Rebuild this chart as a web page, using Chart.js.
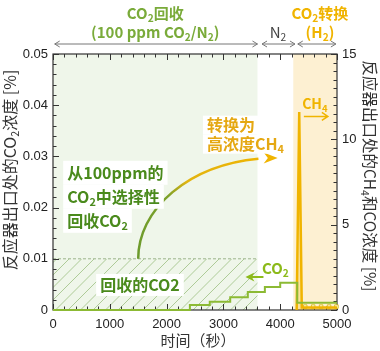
<!DOCTYPE html>
<html>
<head>
<meta charset="utf-8">
<script src="https://cdn.jsdelivr.net/npm/chart.js@4"></script>
<style>
  html, body { margin: 0; padding: 0; background: #fff; }
  #wrap { width: 380px; height: 351px; }
</style>
</head>
<body>
<div id="wrap"><canvas id="myChart" width="380" height="351"></canvas></div>
<script>
// time axis (s) and values
var co2Times = [0, 2410, 2760, 3120, 3430, 3730, 4000, 4300, 5000];
var co2Conc  = [0, 0.001, 0.0016, 0.0025, 0.0035, 0.0045, 0.0053, 0.0014, 0.0014];   // %
var ch4Times = [4290, 4335, 4380, 5000];
var ch4Conc  = [0, 11.6, 0.15, 0.15];                                               // %
var coTimes  = [4440, 4580, 4720, 4860, 4990];
var coConc   = [0.2, 0.2, 0.2, 0.2, 0.2];                                           // %

var xTicks  = [0, 1000, 2000, 3000, 4000, 5000];
var yTicks  = [0, 0.01, 0.02, 0.03, 0.04, 0.05];
var y2Ticks = [0, 5, 10, 15];

// phases of the run
var phaseNames = ["CO_2回收", "N_2", "CO_2转换"];
var phaseSub   = ["(100 ppm CO_2/N_2)", "", "(H_2)"];
var phaseStart = [0, 3640, 4230];
var phaseEnd   = [3600, 4230, 5000];

var FONT = "'Liberation Sans', Arial, sans-serif";
var CJK = "'Noto Sans CJK SC', 'Noto Sans', sans-serif";
var GREEN_DARK = "#4a8a1c";
var GREEN_LIGHT = "#7aab3a";
var LINE_GREEN = "#8cba34";
var YELLOW = "#f0b400";

function toPts(xs, ys){
    var out = [];
    for(var i = 0; i < xs.length; i++){
        out.push({x: xs[i], y: ys[i]});
    }
    return out;
}

// text with "_2" style subscripts
function splitSub(s){
    var parts = [];
    var re = /_(\d)/g, last = 0, m;
    while((m = re.exec(s)) !== null){
        if(m.index > last) parts.push({t: s.slice(last, m.index), sub: false});
        parts.push({t: m[1], sub: true});
        last = m.index + m[0].length;
    }
    if(last < s.length) parts.push({t: s.slice(last), sub: false});
    return parts;
}

function richWidth(ctx, s, size, weight){
    var w = 0;
    splitSub(s).forEach(function(p){
        ctx.font = weight + " " + (p.sub ? size * 0.68 : size) + "px " + CJK;
        w += ctx.measureText(p.t).width;
    });
    return w;
}

function drawRich(ctx, s, x, y, size, weight, color, align){
    var w = richWidth(ctx, s, size, weight);
    var cx = x;
    if(align == "center") cx = x - w / 2;
    if(align == "right") cx = x - w;
    ctx.fillStyle = color;
    ctx.textBaseline = "middle";
    ctx.textAlign = "left";
    splitSub(s).forEach(function(p){
        var fs = p.sub ? size * 0.68 : size;
        ctx.font = weight + " " + fs + "px " + CJK;
        ctx.fillText(p.t, cx, p.sub ? y + size * 0.32 : y);
        cx += ctx.measureText(p.t).width;
    });
    return w;
}

function arrowHead(ctx, x, y, dir, len, half, color){
    ctx.fillStyle = color;
    ctx.beginPath();
    ctx.moveTo(x, y);
    ctx.lineTo(x - dir * len, y - half);
    ctx.lineTo(x - dir * len * 0.7, y);
    ctx.lineTo(x - dir * len, y + half);
    ctx.closePath();
    ctx.fill();
}

function openArrow(ctx, x1, x2, y){
    ctx.save();
    ctx.strokeStyle = "#777";
    ctx.lineWidth = 1;
    ctx.beginPath();
    ctx.moveTo(x1, y); ctx.lineTo(x2, y);
    ctx.moveTo(x1 + 5, y - 3); ctx.lineTo(x1, y); ctx.lineTo(x1 + 5, y + 3);
    ctx.moveTo(x2 - 5, y - 3); ctx.lineTo(x2, y); ctx.lineTo(x2 - 5, y + 3);
    ctx.stroke();
    ctx.restore();
}

// shaded phases + hatched "recovered" area
var backdrop = {
    id: "backdrop",
    beforeDraw: function(chart){
        var ctx = chart.ctx, a = chart.chartArea, xs = chart.scales.x;
        ctx.save();
        ctx.fillStyle = "#eff6ea";
        ctx.fillRect(xs.getPixelForValue(phaseStart[0]), a.top,
                     xs.getPixelForValue(phaseEnd[0]) - xs.getPixelForValue(phaseStart[0]), a.bottom - a.top);
        ctx.fillStyle = "#fdf0d2";
        ctx.fillRect(xs.getPixelForValue(phaseStart[2]), a.top,
                     xs.getPixelForValue(phaseEnd[2]) - xs.getPixelForValue(phaseStart[2]), a.bottom - a.top);
        ctx.restore();
    },
    beforeDatasetsDraw: function(chart){
        var ctx = chart.ctx, a = chart.chartArea, xs = chart.scales.x, ys = chart.scales.y;
        var x0 = xs.getPixelForValue(0), x1 = xs.getPixelForValue(3600);
        var yTop = ys.getPixelForValue(0.01), yBot = ys.getPixelForValue(0);
        ctx.save();
        ctx.beginPath();
        ctx.rect(x0, yTop, x1 - x0, yBot - yTop);
        ctx.clip();
        ctx.strokeStyle = "rgba(130,175,95,0.75)";
        ctx.lineWidth = 0.8;
        ctx.beginPath();
        for(var x = x0 - 60; x < x1 + 60; x += 12.5){
            ctx.moveTo(x, yBot);
            ctx.lineTo(x + (yBot - yTop), yTop);
        }
        ctx.stroke();
        ctx.restore();

        ctx.save();
        ctx.strokeStyle = "#9db58c";
        ctx.lineWidth = 1;
        ctx.setLineDash([3, 2]);
        ctx.beginPath();
        ctx.moveTo(x0, yTop); ctx.lineTo(x1, yTop);
        ctx.stroke();
        ctx.restore();

        // frame with inward ticks
        var y2 = chart.scales.y2;
        ctx.save();
        ctx.strokeStyle = "#333";
        ctx.lineWidth = 1.2;
        ctx.strokeRect(a.left, a.top, a.right - a.left, a.bottom - a.top);
        ctx.lineWidth = 1;
        ctx.beginPath();
        var v, p, len;
        for(v = 0; v <= 5000; v += 200){
            p = Math.round(xs.getPixelForValue(v)) + 0.5;
            len = (v % 1000 == 0) ? 6 : 3.5;
            ctx.moveTo(p, a.bottom); ctx.lineTo(p, a.bottom - len);
            ctx.moveTo(p, a.top); ctx.lineTo(p, a.top + len);
        }
        for(v = 0; v <= 50; v += 2){
            p = Math.round(ys.getPixelForValue(v / 1000)) + 0.5;
            len = (v % 10 == 0) ? 6 : 3.5;
            ctx.moveTo(a.left, p); ctx.lineTo(a.left + len, p);
        }
        for(v = 0; v <= 30; v += 1){
            p = Math.round(y2.getPixelForValue(v / 2)) + 0.5;
            len = (v % 10 == 0) ? 6 : 3.5;
            ctx.moveTo(a.right, p); ctx.lineTo(a.right - len, p);
        }
        ctx.stroke();
        ctx.restore();
    },
    afterDatasetsDraw: function(chart){
        var ctx = chart.ctx, a = chart.chartArea;
        var xs = chart.scales.x, ys = chart.scales.y, y2 = chart.scales.y2;

        // curved arrow from the hatched area to the CH4 spike
        var sx = xs.getPixelForValue(1500), sy = ys.getPixelForValue(0.01);
        var ex = xs.getPixelForValue(3920), ey = ys.getPixelForValue(0.0297);
        var rx = ex - sx, ry = sy - ey;
        var grad = ctx.createLinearGradient(sx, sy, ex, ey);
        grad.addColorStop(0, "#6b9a2c");
        grad.addColorStop(0.36, "#7da12a");
        grad.addColorStop(0.5, "#e2b410");
        grad.addColorStop(1, YELLOW);
        ctx.save();
        ctx.strokeStyle = grad;
        ctx.lineWidth = 2.5;
        ctx.beginPath();
        ctx.ellipse(ex, sy, rx, ry, 0, Math.PI, Math.PI * 1.46);
        ctx.stroke();
        arrowHead(ctx, ex + 2, ey, 1, 14, 5.5, YELLOW);
        ctx.restore();

        // text boxes
        function boxedLines(lines, xv, yv, yAx, color, size, lh){
            var px = xs.getPixelForValue(xv), py = yAx.getPixelForValue(yv);
            lines.forEach(function(t, i){
                var w = richWidth(ctx, t, size, "bold");
                ctx.fillStyle = "#fff";
                ctx.fillRect(px - 4, py + i * lh - lh / 2, w + 8, lh);
            });
            lines.forEach(function(t, i){
                drawRich(ctx, t, px, py + i * lh, size, "bold", color, "left");
            });
        }
        boxedLines(["从100ppm的", "CO_2中选择性", "回收CO_2"], 250, 0.0268, ys, GREEN_DARK, 16, 24);
        boxedLines(["转换为", "高浓度CH_4"], 2710, 0.0361, ys, "#e5a812", 16, 19);
        boxedLines(["回收的CO2"], 830, 0.0049, ys, GREEN_DARK, 16, 22);

        // series labels
        var lx = xs.getPixelForValue(3670), ly = ys.getPixelForValue(0.0082);
        drawRich(ctx, "CO_2", lx + 14, ly, 15, "bold", "#8cba1a", "center");
        ctx.save();
        ctx.strokeStyle = "#8cba1a"; ctx.lineWidth = 2;
        ctx.beginPath(); ctx.moveTo(lx + 2, ly + 9); ctx.lineTo(lx - 10, ly + 9); ctx.stroke();
        arrowHead(ctx, lx - 16, ly + 9, -1, 9, 4.5, "#8cba1a");
        ctx.restore();

        var cx = xs.getPixelForValue(4610), cy = y2.getPixelForValue(12.1);
        drawRich(ctx, "CH_4", cx, cy, 14, "bold", YELLOW, "center");
        ctx.save();
        ctx.strokeStyle = YELLOW; ctx.lineWidth = 1.5;
        ctx.beginPath();
        ctx.moveTo(cx - 11, cy + 13); ctx.lineTo(cx + 13, cy + 13);
        ctx.moveTo(cx + 7, cy + 9); ctx.lineTo(cx + 13, cy + 13); ctx.lineTo(cx + 7, cy + 17);
        ctx.stroke();
        ctx.restore();

        // phase labels above the plot
        var phaseColors = [GREEN_LIGHT, "#444", YELLOW];
        var phaseWeight = ["bold", "normal", "bold"];
        var centers = [1800, 3960, 4700];
        for(var i = 0; i < phaseNames.length; i++){
            var pcx = xs.getPixelForValue(centers[i]);
            if(phaseSub[i]){
                drawRich(ctx, phaseNames[i], pcx, 13, 15, phaseWeight[i], phaseColors[i], "center");
                drawRich(ctx, phaseSub[i], pcx, 32, 15, phaseWeight[i], phaseColors[i], "center");
            } else {
                drawRich(ctx, phaseNames[i], pcx, 32, 15, phaseWeight[i], phaseColors[i], "center");
            }
        }
        openArrow(ctx, xs.getPixelForValue(30), xs.getPixelForValue(3600), 44);
        openArrow(ctx, xs.getPixelForValue(3680), xs.getPixelForValue(4260), 44);
        openArrow(ctx, xs.getPixelForValue(4310), xs.getPixelForValue(4980), 44);

        // axis titles
        ctx.save();
        ctx.translate(10, 170);
        ctx.rotate(-Math.PI / 2);
        drawRich(ctx, "反应器出口处的CO_2浓度 [%]", 0, 0, 16, "normal", "#333", "center");
        ctx.restore();
        ctx.save();
        ctx.translate(370, 176);
        ctx.rotate(Math.PI / 2);
        drawRich(ctx, "反应器出口处的CH_4和CO浓度 [%]", 0, 0, 15.5, "normal", "#333", "center");
        ctx.restore();
        drawRich(ctx, "时间（秒）", 198, 340, 15, "normal", "#333", "center");
    }
};

var tickFont = {family: FONT, size: 13};

var myChart = new Chart(document.getElementById("myChart"), {
    type: "line",
    data: {
        datasets: [{
            label: "CO2",
            data: toPts(co2Times, co2Conc),
            yAxisID: "y",
            borderColor: LINE_GREEN,
            borderWidth: 2,
            stepped: true,
            pointRadius: 0,
            fill: false,
            clip: 4
        },
        {
            label: "CH4",
            data: toPts(ch4Times, ch4Conc),
            yAxisID: "y2",
            borderColor: YELLOW,
            backgroundColor: "rgba(240,180,0,0.25)",
            borderWidth: 2.5,
            pointRadius: 0,
            fill: "origin",
            clip: 4
        },
        {
            label: "CO",
            data: toPts(coTimes, coConc),
            yAxisID: "y2",
            showLine: false,
            pointStyle: "rect",
            pointRadius: 2.5,
            pointBackgroundColor: "#fff6d0",
            pointBorderColor: "#d8c030",
            pointBorderWidth: 1,
            clip: 4
        }]
    },
    options: {
        responsive: false,
        animation: false,
        devicePixelRatio: 1,
        layout: {padding: {top: 54, left: 0, right: 0, bottom: 0}},
        plugins: {legend: {display: false}, tooltip: {enabled: false}},
        scales: {
            x: {
                type: "linear", min: 0, max: 5000,
                afterBuildTicks: function(s){ s.ticks = xTicks.map(function(v){ return {value: v}; }); },
                ticks: {font: tickFont, color: "#222", padding: 7, maxRotation: 0, autoSkip: false,
                        callback: function(v){ return String(v); }},
                grid: {display: false, drawTicks: false},
                border: {display: false},
                afterFit: function(s){ s.height = 41; }
            },
            y: {
                min: 0, max: 0.05, position: "left",
                afterBuildTicks: function(s){ s.ticks = yTicks.map(function(v){ return {value: v}; }); },
                ticks: {font: tickFont, color: "#222", padding: 5,
                        callback: function(v){ return v == 0 ? "0" : v.toFixed(2); }},
                grid: {display: false, drawTicks: false},
                border: {display: false},
                afterFit: function(s){ s.width = 53; }
            },
            y2: {
                min: 0, max: 15, position: "right",
                afterBuildTicks: function(s){ s.ticks = y2Ticks.map(function(v){ return {value: v}; }); },
                ticks: {font: tickFont, color: "#222", padding: 5},
                grid: {display: false, drawTicks: false},
                border: {display: false},
                afterFit: function(s){ s.width = 43; }
            }
        }
    },
    plugins: [backdrop]
});
</script>
</body>
</html>
